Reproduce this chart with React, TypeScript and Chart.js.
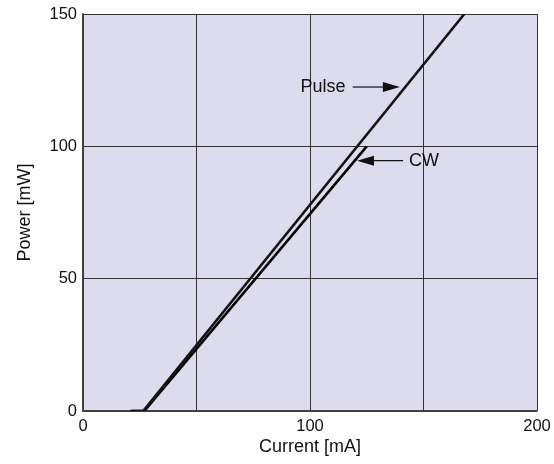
import React, { useEffect, useRef } from "react";
import { Chart, registerables } from "chart.js";

Chart.register(...registerables);

const pulseCurrent = [21, 26.5, 168];
const pulsePower = [0, 0, 150];
const cwCurrent = [21, 27, 125];
const cwPower = [0, 0, 100];

const xTicksShown = [0, 100, 200];

const annotations = [
  { text: "Pulse", x: 105.7, y: 122.4, from: 118.8, to: 139.6 },
  { text: "CW", x: 150.2, y: 94.6, from: 141, to: 120.7 },
];

const FONT = "'Liberation Sans', Arial, Helvetica, sans-serif";
const BG = "#dcdcee";

const bgPlugin = {
  id: "plotBg",
  beforeDraw(chart: any) {
    const { ctx, chartArea } = chart;
    if (!chartArea) return;
    ctx.save();
    ctx.fillStyle = BG;
    ctx.fillRect(chartArea.left, chartArea.top, chartArea.right - chartArea.left, chartArea.bottom - chartArea.top);
    ctx.restore();
  },
};

const annoPlugin = {
  id: "annos",
  afterDatasetsDraw(chart: any) {
    const { ctx } = chart;
    const xs = chart.scales.x;
    const ys = chart.scales.y;
    ctx.save();
    ctx.font = `18px ${FONT}`;
    ctx.fillStyle = "#111";
    ctx.strokeStyle = "#111";
    ctx.textAlign = "center";
    ctx.textBaseline = "middle";
    for (const a of annotations) {
      const tx = xs.getPixelForValue(a.x);
      const ty = ys.getPixelForValue(a.y);
      ctx.fillText(a.text, tx, ty);
      const x0 = xs.getPixelForValue(a.from);
      const x1 = xs.getPixelForValue(a.to);
      const dir = Math.sign(x1 - x0);
      const headLen = 17;
      const headW = 5;
      ctx.lineWidth = 1.2;
      ctx.beginPath();
      ctx.moveTo(x0, ty);
      ctx.lineTo(x1 - dir * headLen, ty);
      ctx.stroke();
      ctx.beginPath();
      ctx.moveTo(x1, ty);
      ctx.lineTo(x1 - dir * headLen, ty - headW);
      ctx.lineTo(x1 - dir * headLen, ty + headW);
      ctx.closePath();
      ctx.fill();
    }
    ctx.restore();
  },
};

export default function App() {
  const ref = useRef<HTMLCanvasElement>(null);
  useEffect(() => {
    if (!ref.current) return;
    const toPts = (xs: number[], ys: number[]) => xs.map((x, i) => ({ x, y: ys[i] }));
    const chart = new Chart(ref.current, {
      type: "line",
      data: {
        datasets: [
          {
            label: "Pulse",
            data: toPts(pulseCurrent, pulsePower),
            borderColor: "#141414",
            borderWidth: 2.6,
            pointRadius: 0,
            tension: 0,
            fill: false,
          },
          {
            label: "CW",
            data: toPts(cwCurrent, cwPower),
            borderColor: "#000",
            borderWidth: 2.6,
            pointRadius: 0,
            tension: 0,
            fill: false,
          },
        ],
      },
      options: {
        animation: false,
        responsive: false,
        devicePixelRatio: 1,
        layout: { padding: { top: 14, right: 17, left: 0, bottom: 0 } },
        plugins: { legend: { display: false }, tooltip: { enabled: false } },
        scales: {
          x: {
            type: "linear",
            min: 0,
            max: 200,
            afterFit(s: any) {
              s.height = 53;
              s.paddingLeft = 0;
              s.paddingRight = 0;
            },
            ticks: {
              stepSize: 50,
              padding: 6,
              color: "#111",
              font: { family: FONT, size: 16.5 },
              maxRotation: 0,
              callback: (v: any) => (xTicksShown.includes(Number(v)) ? String(v) : ""),
            },
            grid: { color: "#333", lineWidth: 1, drawTicks: false },
            border: { color: "#444", width: 1.5 },
            title: {
              display: true,
              text: "Current [mA]",
              color: "#111",
              font: { family: FONT, size: 18 },
              padding: { top: 0, bottom: 6 },
            },
          },
          y: {
            type: "linear",
            min: 0,
            max: 150,
            afterFit(s: any) {
              s.width = 83;
              s.paddingTop = 0;
              s.paddingBottom = 0;
            },
            ticks: {
              stepSize: 50,
              padding: 6,
              color: "#111",
              font: { family: FONT, size: 16.5 },
            },
            grid: { color: "#333", lineWidth: 1, drawTicks: false },
            border: { color: "#444", width: 1.5 },
            title: {
              display: true,
              text: "Power [mW]",
              color: "#111",
              font: { family: FONT, size: 18 },
              padding: { top: 14, bottom: 0 },
            },
          },
        },
      },
      plugins: [bgPlugin, annoPlugin],
    });
    return () => chart.destroy();
  }, []);
  return (
    <div style={{ position: "fixed", left: 0, top: 0, width: 554, height: 464, background: "#fff" }}>
      <canvas ref={ref} width={554} height={464} style={{ display: "block", width: 554, height: 464 }} />
    </div>
  );
}
